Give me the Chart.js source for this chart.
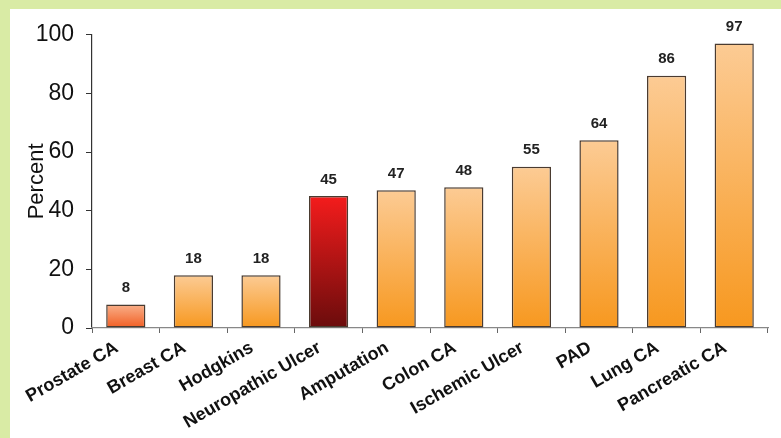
<!DOCTYPE html>
<html>
<head>
<meta charset="utf-8">
<script src="https://cdn.jsdelivr.net/npm/chart.js@4/dist/chart.umd.min.js"></script>
<style>
  html, body { margin: 0; padding: 0; }
  body { width: 781px; height: 438px; background: #d9eba5; position: relative; overflow: hidden; }
  #panel { position: absolute; left: 10px; top: 9px; width: 771px; height: 429px; background: #ffffff; }
  #c { display: block; }
</style>
</head>
<body>
<div id="panel"><canvas id="c" width="771" height="429"></canvas></div>
<script>
const categories = ["Prostate CA", "Breast CA", "Hodgkins", "Neuropathic Ulcer", "Amputation", "Colon CA", "Ischemic Ulcer", "PAD", "Lung CA", "Pancreatic CA"];
const percentValues = [8, 18, 18, 45, 47, 48, 55, 64, 86, 97];
const yTicks = [0, 20, 40, 60, 80, 100];
const barStyles = ["prostate", "normal", "normal", "highlight", "normal", "normal", "normal", "normal", "normal", "normal"];

const gradientStops = {
  normal: ["#fccb94", "#f7981f"],
  prostate: ["#f9b08a", "#f15d22"],
  highlight: ["#f41c1c", "#6a0c0c"]
};

function barGradient(ctx) {
  const chart = ctx.chart;
  if (!chart.chartArea || ctx.dataIndex === undefined) return gradientStops.normal[1];
  const y = chart.scales.y;
  const top = y.getPixelForValue(percentValues[ctx.dataIndex]);
  const bottom = y.getPixelForValue(0);
  const g = chart.ctx.createLinearGradient(0, top, 0, bottom);
  const s = gradientStops[barStyles[ctx.dataIndex]];
  g.addColorStop(0, s[0]);
  g.addColorStop(1, s[1]);
  return g;
}

const valueLabels = {
  id: 'valueLabels',
  afterDatasetsDraw(chart) {
    const { ctx } = chart;
    const meta = chart.getDatasetMeta(0);
    ctx.save();
    ctx.fillStyle = '#222';
    ctx.font = 'bold 15px "Liberation Sans", Arial, sans-serif';
    ctx.textAlign = 'center';
    ctx.textBaseline = 'bottom';
    meta.data.forEach((bar, i) => {
      ctx.fillText(String(percentValues[i]), bar.x, bar.y - 9);
    });
    ctx.restore();
  }
};

new Chart(document.getElementById('c'), {
  type: 'bar',
  data: {
    labels: categories,
    datasets: [{
      data: percentValues,
      backgroundColor: barGradient,
      borderColor: '#4a3b30',
      borderWidth: 1.5,
      borderSkipped: false,
      barPercentage: 0.58,
      categoryPercentage: 1.0
    }]
  },
  options: {
    responsive: false,
    animation: false,
    layout: { padding: { top: 25, right: 13, left: 0, bottom: 0 } },
    plugins: { legend: { display: false }, tooltip: { enabled: false } },
    scales: {
      y: {
        min: 0, max: 100,
        afterBuildTicks: (scale) => { scale.ticks = yTicks.map(v => ({ value: v })); },
        afterFit: (scale) => { scale.width = 82; },
        ticks: {
          color: '#111',
          font: { family: '"Liberation Sans", Arial, sans-serif', size: 23 },
          padding: 12
        },
        grid: { drawOnChartArea: false, drawTicks: true, tickLength: 6, color: '#333', lineWidth: 1 },
        border: { display: true, color: '#333', width: 1.2 },
        title: {
          display: true, text: 'Percent', color: '#111',
          font: { family: '"Liberation Sans", Arial, sans-serif', size: 22 },
          padding: { top: 14, bottom: 0 }
        }
      },
      x: {
        afterFit: (scale) => { scale.height = 110; },
        ticks: {
          color: '#111',
          autoSkip: false,
          maxRotation: 30, minRotation: 30,
          labelOffset: -9,
          font: { family: '"Liberation Sans", Arial, sans-serif', size: 18, weight: 'bold' },
          padding: 4
        },
        grid: { drawOnChartArea: false, drawTicks: true, tickLength: 5, color: '#666', offset: true },
        border: { display: true, color: '#888', width: 1.2 }
      }
    }
  },
  plugins: [valueLabels]
});
</script>
</body>
</html>
